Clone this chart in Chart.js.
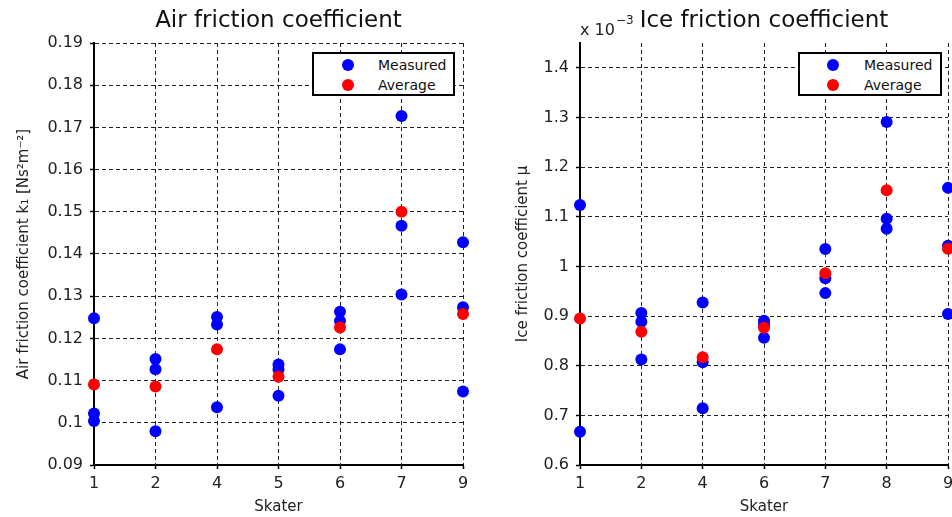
<!DOCTYPE html>
<html><head><meta charset="utf-8">
<script src="https://cdn.jsdelivr.net/npm/chart.js@4/dist/chart.umd.min.js"></script>
<style>
html,body{margin:0;padding:0;background:#fff;overflow:hidden;width:952px;height:517px;}
#wrap{position:relative;width:952px;height:517px;overflow:hidden;background:#fff;}
.panel{position:absolute;top:0;height:517px;}
#p1{left:0;width:480px;}
#p2{left:480px;width:520px;}
.legend{position:absolute;background:#fff;border:2px solid #000;box-sizing:border-box;font:14px "DejaVu Sans",sans-serif;color:#111;}
.legend .dot{position:absolute;width:12px;height:12px;border-radius:50%;}
.legend .lbl{position:absolute;line-height:16px;white-space:nowrap;}
</style>
</head><body>
<div id="wrap">
  <canvas id="c1" class="panel" width="480" height="517" style="left:0"></canvas>
  <canvas id="c2" class="panel" width="520" height="517" style="left:480px"></canvas>
  <div id="leg1" class="legend" style="left:312px;top:52px;width:143px;height:44px"></div>
  <div id="leg2" class="legend" style="left:798px;top:52px;width:144px;height:44px"></div>
</div>
<script>
// ---- Data ----
const airSkaters = ['1','2','4','5','6','7','9'];
const airMeasured = [
  [0.1248, 0.1022, 0.1004],
  [0.1151, 0.1127, 0.0980],
  [0.1251, 0.1233, 0.1037],
  [0.1138, 0.1127, 0.1064],
  [0.1263, 0.1241, 0.1174],
  [0.1727, 0.1467, 0.1304],
  [0.1428, 0.1274, 0.1074]
];
const airAverage = [0.1091, 0.1086, 0.1174, 0.1109, 0.1226, 0.1500, 0.1258];
const airYTicks = [0.09, 0.10, 0.11, 0.12, 0.13, 0.14, 0.15, 0.16, 0.17, 0.18, 0.19];

const iceSkaters = ['1','2','4','6','7','8','9'];
const iceMeasured = [
  [1.1235, 0.667],
  [0.906, 0.8886, 0.8123],
  [0.9273, 0.8068, 0.7145],
  [0.8906, 0.8826, 0.8564],
  [1.0351, 0.9763, 0.9462],
  [1.2908, 1.0958, 1.0757],
  [1.1582, 1.0418, 0.904]
];
const iceAverage = [0.895, 0.8685, 0.8169, 0.8765, 0.9863, 1.1536, 1.0357];
const iceYTicks = [0.6, 0.7, 0.8, 0.9, 1.0, 1.1, 1.2, 1.3, 1.4];

const seriesNames = ['Measured', 'Average'];
const seriesColors = ['#0000ff', '#ff0000'];

// ---- Helpers ----
const FONT = 'DejaVu Sans';
function measuredPoints(skaters, measured){
  const pts = [];
  skaters.forEach((s, i) => measured[i].forEach(v => pts.push({x: s, y: v})));
  return pts;
}
function averagePoints(skaters, avg){
  return skaters.map((s, i) => ({x: s, y: avg[i]}));
}
function fmt(v){ return String(+(+v).toFixed(3)); }

const decor = {
  id: 'decor',
  afterDraw(chart, args, opts){
    const {ctx, chartArea} = chart;
    ctx.save();
    ctx.fillStyle = '#111';
    ctx.font = '23px "' + FONT + '"';
    ctx.textAlign = 'center';
    ctx.textBaseline = 'alphabetic';
    ctx.fillText(opts.title, (chartArea.left + chartArea.right) / 2, 27);
    if (opts.exponent) {
      ctx.textAlign = 'left';
      ctx.fillStyle = '#222';
      ctx.font = '16px "' + FONT + '"';
      ctx.fillText('x 10', chartArea.left, 35);
      const w = ctx.measureText('x 10').width;
      ctx.font = '12px "' + FONT + '"';
      ctx.fillText(opts.exponent, chartArea.left + w + 1, 24);
    }
    ctx.restore();
  }
};

function makeChart(canvasId, skaters, measured, avg, yTicks, yMin, yMax, yTitle, title, exponent, yWidth, yTitlePad, padRight){
  const ctx = document.getElementById(canvasId);
  return new Chart(ctx, {
    type: 'line',
    data: {
      labels: skaters,
      datasets: [
        {label: seriesNames[0], data: measuredPoints(skaters, measured), showLine: false,
         pointRadius: 6, pointHoverRadius: 6, pointBorderWidth: 0,
         pointBackgroundColor: seriesColors[0], backgroundColor: seriesColors[0], borderColor: seriesColors[0],
         order: 1, clip: false},
        {label: seriesNames[1], data: averagePoints(skaters, avg), showLine: false,
         pointRadius: 6, pointHoverRadius: 6, pointBorderWidth: 0,
         pointBackgroundColor: seriesColors[1], backgroundColor: seriesColors[1], borderColor: seriesColors[1],
         order: 0, clip: false}
      ]
    },
    options: {
      responsive: false,
      animation: false,
      devicePixelRatio: 1,
      layout: {padding: {top: 43, right: padRight, left: 0, bottom: 0}},
      plugins: {
        legend: {display: false},
        tooltip: {enabled: false},
        title: {display: false},
        decor: {title: title, exponent: exponent}
      },
      scales: {
        x: {
          type: 'category', offset: false,
          grid: {color: '#222', lineWidth: 1, drawTicks: true, tickLength: 4, tickColor: '#000', tickWidth: 1.5, tickBorderDash: []},
          border: {display: true, color: '#000', width: 2, dash: [4, 3]},
          ticks: {color: '#222', font: {family: FONT, size: 16}, padding: 5, maxRotation: 0, autoSkip: false},
          title: {display: true, text: 'Skater', color: '#222', font: {family: FONT, size: 15}, padding: {top: 0, bottom: 1}},
          afterFit(s){ s.height = 52; }
        },
        y: {
          type: 'linear', min: yMin, max: yMax,
          afterBuildTicks(s){ s.ticks = yTicks.map(v => ({value: v})); },
          grid: {color: '#222', lineWidth: 1, drawTicks: true, tickLength: 4, tickColor: '#000', tickWidth: 1.5, tickBorderDash: []},
          border: {display: true, color: '#000', width: 2, dash: [4, 3]},
          ticks: {color: '#222', font: {family: FONT, size: 16}, padding: 7, callback: v => fmt(v)},
          title: {display: true, text: yTitle, color: '#222', font: {family: FONT, size: 15}, padding: {top: yTitlePad, bottom: 0}},
          afterFit(s){ s.width = yWidth; }
        }
      }
    },
    plugins: [decor]
  });
}

const chart1 = makeChart('c1', airSkaters, airMeasured, airAverage, airYTicks, 0.09, 0.19,
  'Air friction coefficient k\u2081 [Ns\u00B2m\u207B\u00B2]', 'Air friction coefficient', null, 94, 15, 17);
const chart2 = makeChart('c2', iceSkaters, iceMeasured, iceAverage, iceYTicks, 0.6, 1.45,
  'Ice friction coefficient \u03BC', 'Ice friction coefficient', '\u22123', 100, 34.5, 52);

function buildLegend(chart, el, dotX, textX){
  chart.data.datasets.forEach((ds, i) => {
    const cy = 11 + i * 20;
    const d = document.createElement('div');
    d.className = 'dot';
    d.style.background = ds.pointBackgroundColor;
    d.style.left = (dotX - 6) + 'px';
    d.style.top = (cy - 6) + 'px';
    el.appendChild(d);
    const t = document.createElement('div');
    t.className = 'lbl';
    t.textContent = ds.label;
    t.style.left = textX + 'px';
    t.style.top = (cy - 8) + 'px';
    el.appendChild(t);
  });
}
buildLegend(chart1, document.getElementById('leg1'), 34, 64);
buildLegend(chart2, document.getElementById('leg2'), 33, 64);
</script>
</body></html>
